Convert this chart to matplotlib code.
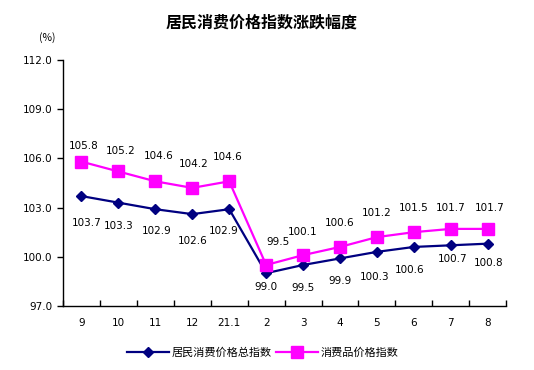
import matplotlib
matplotlib.use('Agg')
import matplotlib.pyplot as plt

plt.rcParams['font.family'] = ['Noto Sans CJK SC', 'DejaVu Sans']

months = ['9', '10', '11', '12', '21.1', '2', '3', '4', '5', '6', '7', '8']
cpi = [103.7, 103.3, 102.9, 102.6, 102.9, 99.0, 99.5, 99.9, 100.3, 100.6, 100.7, 100.8]
goods = [105.8, 105.2, 104.6, 104.2, 104.6, 99.5, 100.1, 100.6, 101.2, 101.5, 101.7, 101.7]
yticks = [97.0, 100.0, 103.0, 106.0, 109.0, 112.0]

# label offsets in pixels (moved by hand in the original)
cpi_dy = [27, 23, 22, 27, 22, 14, 23, 23, 25, 23, 14, 19]
cpi_dx = [5, 0, 1, 0, -6, 0, 0, 0, -2, -4, 2, 1]
goods_dy = [16, 20, 25, 24, 24, 23, 23, 24, 24, 24, 21, 21]
goods_dx = [2, 2, 3, 1, -2, 12, 0, 0, 0, 0, 0, 2]

fig = plt.figure(figsize=(5.34, 3.7), dpi=100)
ax = fig.add_axes([0.118, 0.173, 0.830, 0.665])

x = list(range(len(months)))
ax.plot(x, cpi, color='#000080', lw=1.6, marker='D', ms=5.5, label='居民消费价格总指数')
ax.plot(x, goods, color='#FF00FF', lw=1.6, marker='s', ms=8.5, label='消费品价格指数')

px = 0.72
for i in x:
    ax.annotate(f'{cpi[i]:.1f}', (i, cpi[i]), xytext=(cpi_dx[i] * px, -cpi_dy[i] * px),
                textcoords='offset points', ha='center', va='center', fontsize=7.5,
                family='DejaVu Sans')
    ax.annotate(f'{goods[i]:.1f}', (i, goods[i]), xytext=(goods_dx[i] * px, goods_dy[i] * px),
                textcoords='offset points', ha='center', va='center', fontsize=7.5,
                family='DejaVu Sans')

ax.set_xlim(-0.5, len(months) - 0.5)
ax.set_ylim(97, 112)
ax.set_yticks(yticks)
ax.set_yticklabels([f'{v:.1f}' for v in yticks], fontsize=7.5, family='DejaVu Sans')
ax.tick_params(axis='y', direction='out', length=4, width=1)

ax.set_xticks([i - 0.5 for i in range(len(months) + 1)])
ax.set_xticklabels([])
ax.tick_params(axis='x', which='major', direction='in', length=4, width=1)
ax.set_xticks(x, minor=True)
ax.set_xticklabels(months, minor=True, fontsize=7.5, family='DejaVu Sans')
ax.tick_params(axis='x', which='minor', length=0, pad=9)

ax.spines['top'].set_visible(False)
ax.spines['right'].set_visible(False)
ax.spines['left'].set_linewidth(1)
ax.spines['bottom'].set_linewidth(1)

fig.text(0.49, 0.94, '居民消费价格指数涨跌幅度', ha='center', va='center',
         fontsize=11.5, fontweight='bold')
fig.text(0.088, 0.898, '(%)', ha='center', va='center', fontsize=7.5)

fig.legend(loc='center', bbox_to_anchor=(0.492, 0.048), ncol=2, frameon=False,
           fontsize=8, handlelength=3.8, columnspacing=0.3, handletextpad=0.3)

fig.savefig('out.png', dpi=100)
